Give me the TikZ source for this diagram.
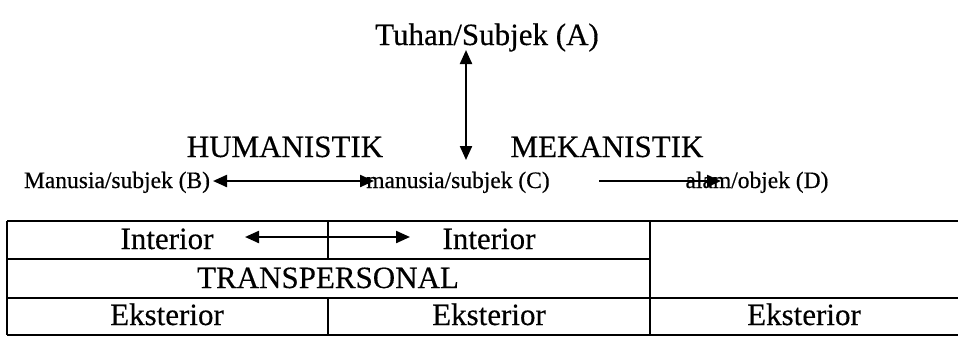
\documentclass[tikz,border=0pt]{standalone}
\usepackage{fontspec}
\setmainfont[FakeBold=0.3]{Liberation Serif}
\newfontfamily\labelfont[FakeBold=0.5]{Liberation Serif}
\usetikzlibrary{arrows.meta}

\begin{document}
\begin{tikzpicture}[x=1pt,y=-1pt,
  big/.style={font=\fontsize{31}{31}\selectfont, anchor=base, inner sep=0pt},
  small/.style={font=\labelfont\fontsize{23.5}{23.5}\selectfont, anchor=base, inner sep=0pt},
  tip/.style={Triangle[length=14pt,width=12pt]},
  conn/.style={line width=2.2pt, {Triangle[length=14pt,width=12pt]}-{Triangle[length=14pt,width=12pt]}},
  oneway/.style={line width=2.2pt, -{Triangle[length=14pt,width=12pt]}},
  rule/.style={line width=2.3pt}]
\useasboundingbox (0,0) rectangle (958,341);

% upper scheme
\node[big] (A) at (487,45) {Tuhan/Subjek (A)};
\node[big] (hum) at (285,157) {HUMANISTIK};
\node[big] (mek) at (607,157) {MEKANISTIK};
\node[small] (B) at (117,188) {Manusia/subjek (B)};
\node[small] (C) at (458,188) {manusia/subjek (C)};
\node[small] (D) at (757,188) {alam/objek (D)};

\coordinate (vtop) at (466,50);
\coordinate (vbot) at (466,160);
\coordinate (bcl) at (213,181);
\coordinate (bcr) at (374,181);
\coordinate (cdl) at (599,181);
\coordinate (cdr) at (721,181);

\draw[conn] (vtop) -- (vbot);
\draw[conn] (bcl) -- (bcr);
\draw[oneway] (cdl) -- (cdr);

% table
\draw[rule] (7,221) -- (958,221);
\draw[rule] (7,259) -- (650,259);
\draw[rule] (7,298) -- (958,298);
\draw[rule] (7,335) -- (958,335);
\draw[rule] (7,221) -- (7,335);
\draw[rule] (328,221) -- (328,259);
\draw[rule] (328,298) -- (328,335);
\draw[rule] (650,221) -- (650,335);

\node[big] (i1) at (167,249) {Interior};
\node[big] (i2) at (489,249) {Interior};
\coordinate (il) at (245,237);
\coordinate (ir) at (410,237);
\draw[conn] (il) -- (ir);
\node[big] (tp) at (328,288) {TRANSPERSONAL};
\node[big] (e1) at (167,325) {Eksterior};
\node[big] (e2) at (489,325) {Eksterior};
\node[big] (e3) at (804,325) {Eksterior};
\end{tikzpicture}
\end{document}
